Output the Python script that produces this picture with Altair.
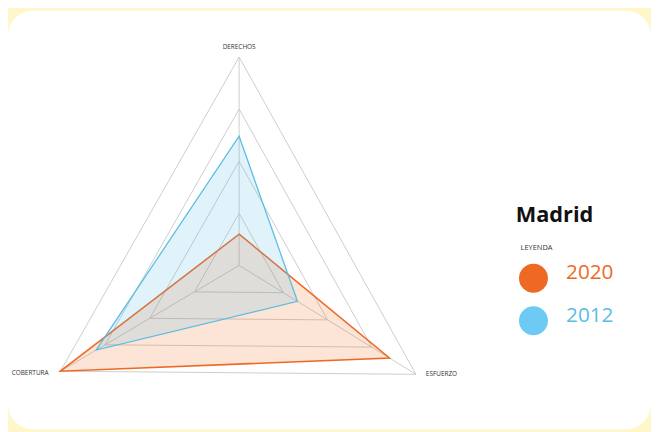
import math
import altair as alt
import pandas as pd

# ---- data ----
axes_names = ["DERECHOS", "ESFUERZO", "COBERTURA"]
axes_angles = [90, -31.5, 210.5]          # degrees
values_2020 = [15, 85, 100]
values_2012 = [62, 33, 80]
series_names = ["2020", "2012"]
ring_levels = [25, 50, 75, 100]
max_value = 100

ORANGE = "#EE6A24"
BLUE = "#5BBDE4"
BLUE_DOT = "#6DCBF3"
YELLOW = "#FFF7C9"

W, H = 651, 424
CX, CY = 234, 258   # centre of the radar inside the chart
RX, RY = 210, 211

def pt(v, ang):
    r = v / max_value
    return r * math.cos(math.radians(ang)), r * math.sin(math.radians(ang))

rows = []
for s, vals in zip(series_names, [values_2020, values_2012]):
    for i, (a, ang, v) in enumerate(zip(axes_names, axes_angles, vals)):
        x, y = pt(v, ang)
        rows.append({"serie": s, "eje": a, "idx": i, "x": x, "y": y})
poly = pd.DataFrame(rows)

grid_rows = []
for lv in ring_levels:
    for i, ang in enumerate(axes_angles):
        x, y = pt(lv, ang)
        grid_rows.append({"ring": lv, "idx": i, "x": x, "y": y})
grid = pd.DataFrame(grid_rows)

spoke_rows = []
for a, ang in zip(axes_names, axes_angles):
    x, y = pt(max_value, ang)
    spoke_rows.append({"eje": a, "x": 0.0, "y": 0.0, "x2": x, "y2": y})
spokes = pd.DataFrame(spoke_rows)

xs = alt.Scale(domain=[-CX / RX, (W - CX) / RX], nice=False, zero=False)
ys = alt.Scale(domain=[-(H - CY) / RY, CY / RY], nice=False, zero=False)
X = lambda f="x": alt.X(f"{f}:Q", scale=xs, axis=None)
Y = lambda f="y": alt.Y(f"{f}:Q", scale=ys, axis=None)

card = alt.Chart(pd.DataFrame({"a": [0]})).mark_rect(
    color="white", cornerRadius=26
).encode(x=alt.value(0), x2=alt.value(W), y=alt.value(0), y2=alt.value(H))

rings = alt.Chart(grid).mark_line(
    interpolate="linear-closed", color="#c8c8c8", strokeWidth=0.9
).encode(x=X(), y=Y(), detail="ring:N", order="idx:Q")

spk = alt.Chart(spokes).mark_rule(color="#c8c8c8", strokeWidth=0.9).encode(
    x=X(), y=Y(), x2="x2:Q", y2="y2:Q"
)

def polygon(name, color, sw, op):
    d = poly[poly.serie == name]
    return alt.Chart(d).mark_line(
        interpolate="linear-closed", fill=color, fillOpacity=op,
        stroke=color, strokeWidth=sw
    ).encode(x=X(), y=Y(), order="idx:Q")

p2012 = polygon("2012", BLUE, 1.3, 0.18)
p2020 = polygon("2020", ORANGE, 1.6, 0.18)

lab = pd.DataFrame({"eje": axes_names,
                    "x": [pt(max_value, a)[0] for a in axes_angles],
                    "y": [pt(max_value, a)[1] for a in axes_angles]})
tfont = dict(font="Open Sans", fontSize=6.5, color="#333333")
lab_top = alt.Chart(lab[lab.eje == "DERECHOS"]).mark_text(align="center", dy=-10, **tfont).encode(x=X(), y=Y(), text="eje:N")
lab_r = alt.Chart(lab[lab.eje == "ESFUERZO"]).mark_text(align="left", dx=10, dy=0, **tfont).encode(x=X(), y=Y(), text="eje:N")
lab_l = alt.Chart(lab[lab.eje == "COBERTURA"]).mark_text(align="right", dx=-12, dy=2, **tfont).encode(x=X(), y=Y(), text="eje:N")

title = alt.Chart(pd.DataFrame({"t": ["Madrid"]})).mark_text(
    font="Open Sans", fontSize=22, fontWeight="bold", color="#111111", align="left", baseline="middle"
).encode(x=alt.value(514), y=alt.value(207), text="t:N")
leyenda = alt.Chart(pd.DataFrame({"t": ["LEYENDA"]})).mark_text(
    font="Open Sans", fontSize=7.5, color="#333333", align="left", baseline="middle"
).encode(x=alt.value(519), y=alt.value(240), text="t:N")

def legend_item(name, color, dot, yv):
    d = pd.DataFrame({"t": [name]})
    c = alt.Chart(d).mark_circle(size=860, color=dot, opacity=1).encode(
        x=alt.value(532), y=alt.value(yv))
    t = alt.Chart(d).mark_text(
        font="Open Sans", fontSize=21, color=color, align="left", baseline="middle"
    ).encode(x=alt.value(565), y=alt.value(yv - 5), text="t:N")
    return c + t

leg1 = legend_item("2020", ORANGE, ORANGE, 271)
leg2 = legend_item("2012", BLUE, BLUE_DOT, 314)

chart = alt.layer(
    card, rings, spk, p2020, p2012, lab_top, lab_r, lab_l, title, leyenda, leg1, leg2
).properties(
    width=W, height=H, autosize=alt.AutoSizeParams(type="none"), padding=0,
    background=YELLOW
).configure_view(stroke=None)

chart.save("out.html", embed_options={"renderer": "svg", "actions": False})
